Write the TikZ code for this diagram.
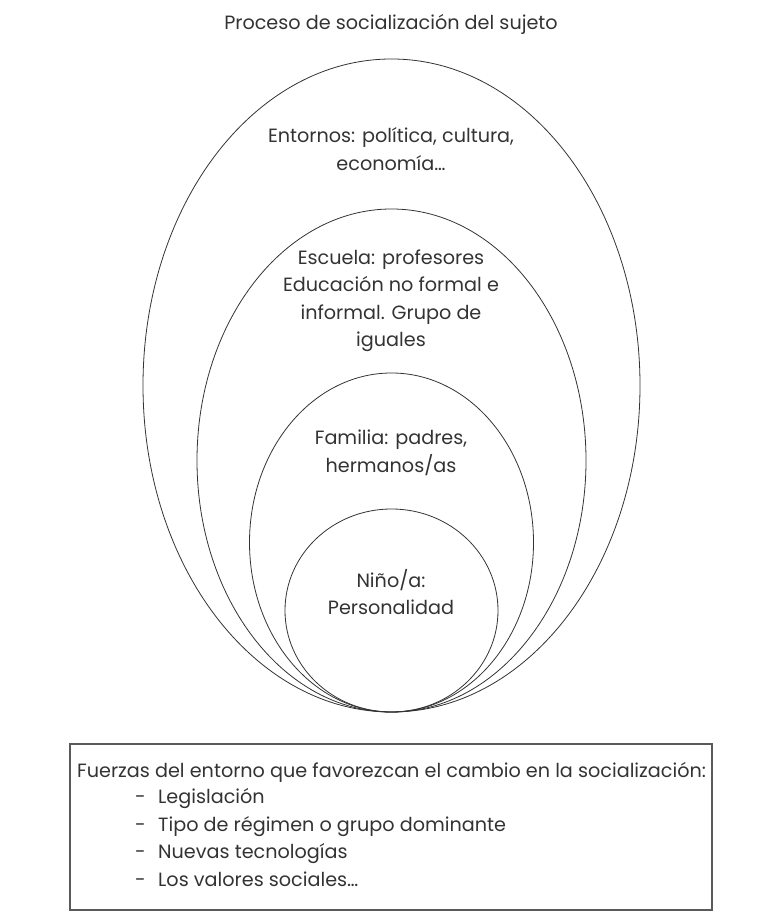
\documentclass[tikz,border=0pt]{standalone}
\usepackage{fontspec}
\setmainfont{Poppins}
\definecolor{tinta}{HTML}{333333}
\definecolor{marco}{HTML}{5A5A5A}
\begin{document}
\begin{tikzpicture}[x=1pt,y=1pt,
    lbl/.style={align=center,text=tinta,inner sep=0pt,font=\fontsize{19.2}{27.5}\selectfont},
    ring/.style={draw=tinta,line width=0.8pt}]
    \useasboundingbox (0,0) rectangle (762,913);
    \node[lbl] (titulo) at (391,889) {Proceso de socialización del sujeto};
    \draw[ring] (391.5,527.5) ellipse (248.5 and 326.5);
    \draw[ring] (391.5,452.5) ellipse (194.5 and 251.5);
    \draw[ring] (391.5,370.5) ellipse (142 and 169.5);
    \draw[ring] (391.5,302.5) ellipse (106.5 and 101.5);
    \node[lbl] (entornos) at (391,764) {Entornos: política, cultura,\\economía…};
    \node[lbl] (escuela) at (391,612) {Escuela: profesores\\Educación no formal e\\informal. Grupo de\\iguales};
    \node[lbl] (familia) at (391,460) {Familia: padres,\\hermanos/as};
    \node[lbl] (nino) at (391,321) {Niño/a:\\Personalidad};
    \draw[draw=marco,line width=1.5pt] (70,169) rectangle (712,3);
    \node[lbl,anchor=base west] (fuerzas) at (77,135) {Fuerzas del entorno que favorezcan el cambio en la socialización:};
    \foreach \y/\t [count=\i] in {109/Legislación, 81/Tipo de régimen o grupo dominante, 54/Nuevas tecnologías, 26/Los valores sociales…} {
        \node[lbl,anchor=base west] (guion\i) at (135,\y) {-};
        \node[lbl,anchor=base west] (item\i) at (158,\y) {\t};
    }
\end{tikzpicture}
\end{document}
